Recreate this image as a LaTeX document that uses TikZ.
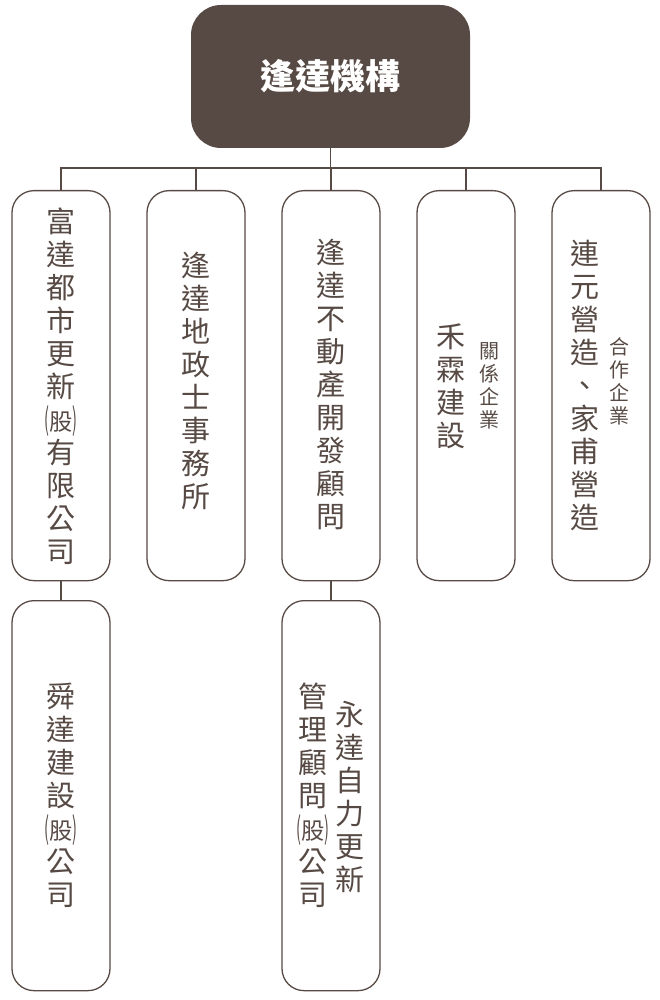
\documentclass[tikz,border=0pt]{standalone}
\usepackage{fontspec}
\usepackage{graphicx}
\setmainfont{Noto Sans CJK TC}
\definecolor{brn}{HTML}{574A44}
\newcommand{\gu}{\makebox[1em]{\scalebox{0.5}[1.05]{(}\scalebox{0.8}{股}\scalebox{0.5}[1.05]{)}}}
\begin{document}
\begin{tikzpicture}[x=1pt,y=-1pt,
  card/.style={draw=brn,line width=1.3pt,rounded corners=22pt,minimum width=98pt,minimum height=390pt,anchor=north},
  vt/.style={text=brn,align=center,font=\fontsize{29}{33}\selectfont},
  vs/.style={text=brn,align=center,font=\fontsize{20}{23}\selectfont},
  ln/.style={draw=brn,line width=1.3pt}]
\useasboundingbox (0,0) rectangle (660,1000);
\node[fill=brn,rounded corners=30pt,minimum width=279pt,minimum height=143pt,text=white,font=\fontsize{35}{40}\selectfont\bfseries] (top) at (330.5,76.5) {逢達機構};
\node[card] (c1) at (61,190) {};
\node[card] (c2) at (196,190) {};
\node[card] (c3) at (331,190) {};
\node[card] (c4) at (466,190) {};
\node[card] (c5) at (601,190) {};
\node[card] (d1) at (61,600) {};
\node[card] (d3) at (331,600) {};
\coordinate (h) at (330.5,168);
\draw[ln] (top.south) -- (h);
\draw[ln] (c1.north) -- (c1.north |- h) -- (c5.north |- h) -- (c5.north);
\foreach \c in {c2,c3,c4} \draw[ln] (\c.north |- h) -- (\c.north);
\draw[ln] (c1.south) -- (d1.north);
\draw[ln] (c3.south) -- (d3.north);
\node[vt] (t1) at (61,386) {富\\達\\都\\市\\更\\新\\\gu\\有\\限\\公\\司};
\node[vt] (t2) at (196,381) {逢\\達\\地\\政\\士\\事\\務\\所};
\node[vt] (t3) at (331,384) {逢\\達\\不\\動\\產\\開\\發\\顧\\問};
\node[vt] (t4) at (451,386) {禾\\霖\\建\\設};
\node[vs] (s4) at (489,386) {關\\係\\企\\業};
\node[vt] (t5) at (585,386) {連\\元\\營\\造\\、\\家\\甫\\營\\造};
\node[vs] (s5) at (619,381) {合\\作\\企\\業};
\node[vt] (t6) at (61,795) {舜\\達\\建\\設\\\gu\\公\\司};
\node[vt] (t7) at (313,795) {管\\理\\顧\\問\\\gu\\公\\司};
\node[vt] (t8) at (350,797) {永\\達\\自\\力\\更\\新};
\end{tikzpicture}
\end{document}
